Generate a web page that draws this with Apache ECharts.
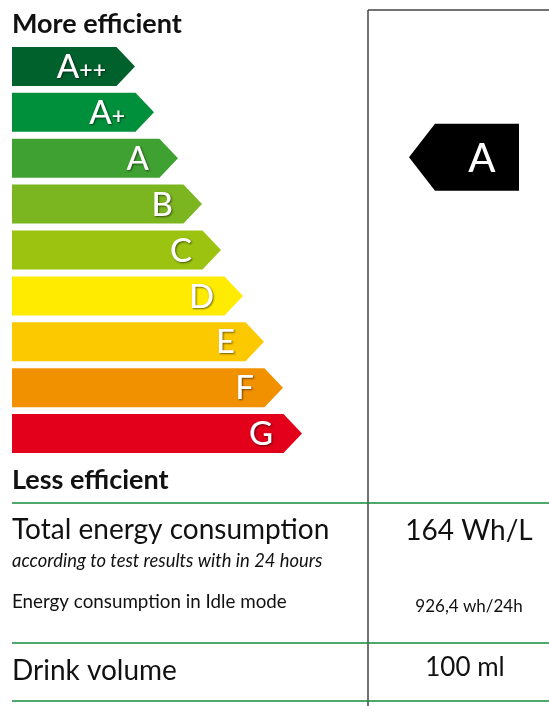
<!DOCTYPE html>
<html><head><meta charset="utf-8">
<script src="https://cdn.jsdelivr.net/npm/echarts@6/dist/echarts.min.js"></script>
<style>html,body{margin:0;padding:0;background:#fff}#c{width:549px;height:706px}</style>
</head><body><div id="c"></div>
<script>
// ---- data ----
const classes = ['A++', 'A+', 'A', 'B', 'C', 'D', 'E', 'F', 'G'];
const barLengths = [123, 142, 166, 190, 209, 231, 252, 271, 290];
const classColors = ['#00612c', '#008f3a', '#3fa132', '#7bb51f', '#9bc30f', '#feeb00', '#fcc800', '#f29100', '#e2001a'];
const rating = 'A';
const topLabel = 'More efficient';
const bottomLabel = 'Less efficient';
const tableLabels = ['Total energy consumption', 'Energy consumption in Idle mode', 'Drink volume'];
const tableSubLabel = 'according to test results with in 24 hours';
const tableValues = ['164 Wh/L', '926,4 wh/24h', '100 ml'];

const FONT = 'Lato, "Open Sans", sans-serif';
const chart = echarts.init(document.getElementById('c'), null, {renderer: 'canvas'});

const shadow = {textShadowColor: 'rgba(0,0,0,0.55)', textShadowBlur: 2, textShadowOffsetX: 1, textShadowOffsetY: 1};

function labelText(name) {
  const base = name.replace(/\+/g, '');
  const plus = name.slice(base.length);
  return plus ? '{a|' + base + '}{p|' + plus + '}' : '{a|' + base + '}';
}

function renderBar(params, api) {
  const idx = api.value(0);
  const len = api.value(1);
  const s = api.coord([0, idx]);
  const e = api.coord([len, idx]);
  const h = api.size([0, 1])[1] * 0.85;
  const half = h / 2;
  const tip = half * 0.95;
  const y = s[1];
  const pts = [[s[0], y - half], [e[0] - tip, y - half], [e[0], y], [e[0] - tip, y + half], [s[0], y + half]];
  return {
    type: 'group',
    children: [
      {type: 'polygon', shape: {points: pts}, style: {fill: classColors[idx]}},
      {type: 'text', style: Object.assign({
        text: labelText(classes[idx]), x: e[0] - 29, y: y + 1, align: 'right', verticalAlign: 'middle',
        fill: '#fff',
        rich: {
          a: Object.assign({fontFamily: FONT, fontSize: 33, fontWeight: 500, fill: '#fff', verticalAlign: 'middle'}, shadow),
          p: Object.assign({fontFamily: FONT, fontSize: 23, fontWeight: 600, fill: '#fff', verticalAlign: 'middle', padding: [6, 0, 0, 0]}, shadow)
        }
      }, shadow)}
    ]
  };
}

function renderRating(params, api) {
  const idx = api.value(0);
  const y = api.coord([0, idx])[1] - 1;
  const half = 33.5;
  const pts = [[409, y], [435, y - half], [519, y - half], [519, y + half], [435, y + half]];
  return {
    type: 'group',
    children: [
      {type: 'polygon', shape: {points: pts}, style: {fill: '#000'}},
      {type: 'text', style: {text: classes[idx], x: 482, y: y + 2, align: 'center', verticalAlign: 'middle',
        fontFamily: FONT, fontSize: 40, fontWeight: 500, fill: '#fff'}}
    ]
  };
}

const green = '#178a3c';
const txt = (text, x, y, size, opts) => ({
  type: 'text', x: x, y: y,
  style: Object.assign({text: text, fontFamily: FONT, fontSize: size, fill: '#111', verticalAlign: 'middle', align: 'left'}, opts || {})
});
const line = (x1, y1, x2, y2, color) => ({
  type: 'line', shape: {x1, y1, x2, y2}, style: {stroke: color, lineWidth: 1.5}
});

const graphics = [
  line(368, 10, 368, 706, '#444'),
  line(368, 10, 549, 10, '#444'),
  line(12, 503, 549, 503, green),
  line(12, 643, 549, 643, green),
  line(12, 701, 549, 701, green),
  txt(topLabel, 12, 24, 27, {fontWeight: 'bold'}),
  txt(bottomLabel, 12, 480, 27, {fontWeight: 'bold'}),
  txt(tableLabels[0], 12, 530, 28, {fontWeight: 400}),
  txt(tableSubLabel, 12, 561, 18.4, {fontStyle: 'italic', fontWeight: 400}),
  txt(tableLabels[1], 12, 602, 18.8, {fontWeight: 400}),
  txt(tableLabels[2], 12, 671, 28, {fontWeight: 400}),
  txt(tableValues[0], 469, 531, 28, {align: 'center', fontWeight: 400}),
  txt(tableValues[1], 469, 607, 17, {align: 'center', fontWeight: 400}),
  txt(tableValues[2], 465, 668, 26, {align: 'center', fontWeight: 400})
];

chart.setOption({
  animation: false,
  grid: {left: 12, right: 0, top: 43.5, height: 413},
  xAxis: {type: 'value', min: 0, max: 537, show: false},
  yAxis: {type: 'category', data: classes, inverse: true, show: false},
  series: [
    {type: 'custom', renderItem: renderBar, data: classes.map((c, i) => [i, barLengths[i]]), encode: {x: 1, y: 0}},
    {type: 'custom', renderItem: renderRating, data: [[classes.indexOf(rating)]], encode: {y: 0}}
  ],
  graphic: graphics
});
</script>
</body></html>
